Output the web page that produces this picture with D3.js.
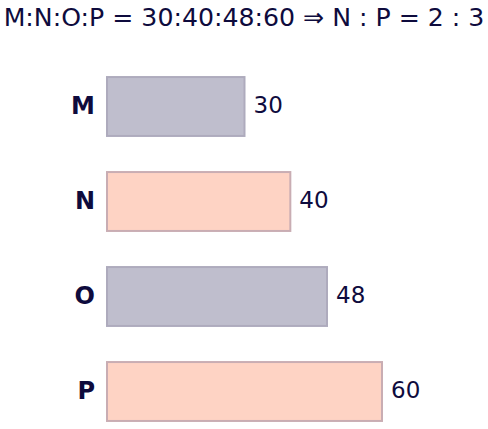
<!DOCTYPE html>
<html>
<head>
<meta charset="utf-8">
<script src="https://cdn.jsdelivr.net/npm/d3@7"></script>
<style>
  body { margin: 0; background: #fff; }
  text { font-family: "DejaVu Sans", sans-serif; fill: #0e0b3d; }
</style>
</head>
<body>
<svg id="main" width="488" height="429"></svg>
<script>
// chart data
var categories = ["M", "N", "O", "P"];
var values = [30, 40, 48, 60];
var title = "M:N:O:P = 30:40:48:60 \u21D2 N : P = 2 : 3";

var fills = ["#bfbecd", "#fed3c4"];
var strokes = ["#aeabbd", "#c9adb3"];

var svg = d3.select("#main");

var x = d3.scaleLinear().domain([0, 60]).range([107, 382]);
var y = d3.scaleBand().domain(categories).range([59, 439]).paddingInner(0.38).paddingOuter(0.19);

svg.append("text")
  .attr("x", 244)
  .attr("y", 26)
  .attr("text-anchor", "middle")
  .style("font-size", "25.2px")
  .text(title);

var rows = svg.selectAll("g.row")
  .data(categories)
  .enter().append("g")
  .attr("class", "row");

rows.append("rect")
  .attr("x", x(0))
  .attr("y", function(d) { return y(d); })
  .attr("width", function(d, i) { return x(values[i]) - x(0); })
  .attr("height", y.bandwidth())
  .style("fill", function(d, i) { return fills[i % 2]; })
  .style("stroke", function(d, i) { return strokes[i % 2]; })
  .style("stroke-width", 2);

// category labels
rows.append("text")
  .attr("x", 95)
  .attr("y", function(d) { return y(d) + y.bandwidth() / 2; })
  .attr("dy", "0.3em")
  .attr("text-anchor", "end")
  .style("font-size", "24px")
  .style("font-weight", "bold")
  .text(function(d) { return d; });

// value labels
rows.append("text")
  .attr("x", function(d, i) { return x(values[i]) + 9; })
  .attr("y", function(d) { return y(d) + y.bandwidth() / 2; })
  .attr("dy", "0.3em")
  .style("font-size", "23px")
  .text(function(d, i) { return values[i]; });
</script>
</body>
</html>
